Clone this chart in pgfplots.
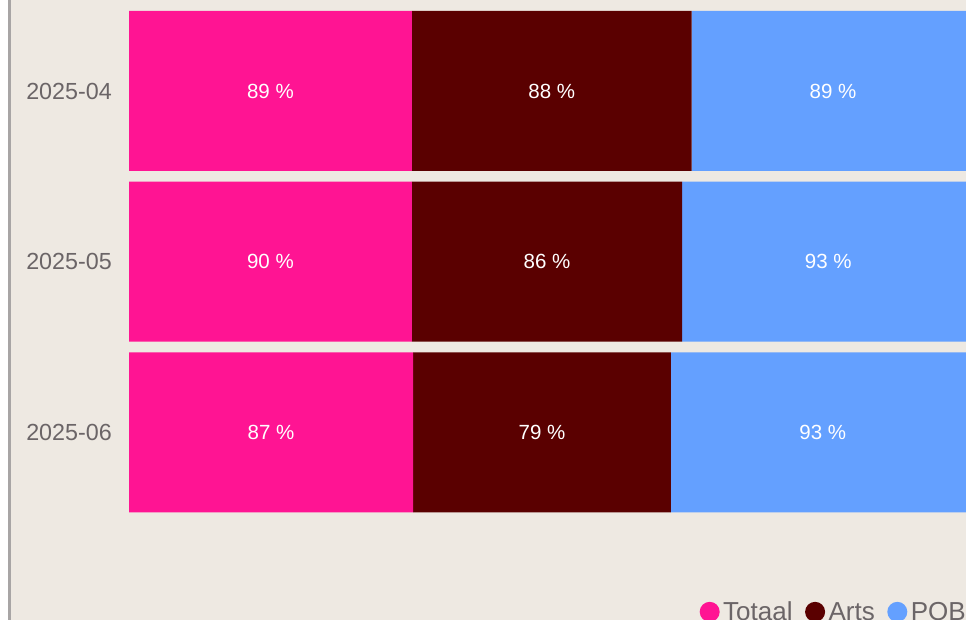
\documentclass[border=0pt]{standalone}
\usepackage{fontspec}
\setmainfont{Liberation Sans}
\usepackage{pgfplots}
\usepackage{pgfplotstable}
\pgfplotsset{compat=1.18}
\definecolor{bg}{HTML}{EEE9E2}
\definecolor{pinkc}{HTML}{FF1493}
\definecolor{maroonc}{HTML}{5A0000}
\definecolor{bluec}{HTML}{64A0FF}
\definecolor{txt}{HTML}{6B6567}
\definecolor{axgray}{HTML}{A8A5A5}

% share = value normalised to 100 % per month, val = shown value
\pgfplotstableread{
y share val
0 33.459 89
1 33.457 90
2 33.591 87
}\totaal
\pgfplotstableread{
y share val
0 33.083 88
1 31.970 86
2 30.502 79
}\arts
\pgfplotstableread{
y share val
0 33.458 89
1 34.573 93
2 35.907 93
}\pob

\begin{document}
\begin{tikzpicture}[x=1bp,y=1bp]
\useasboundingbox (0,0) rectangle (966,620);
\clip (0,0) rectangle (966,620);
\fill[white] (0,0) rectangle (966,620);
\fill[bg] (10,0) rectangle (966,620);
\draw[axgray, line width=2.5bp] (9.5,0) -- (9.5,620);
\begin{axis}[
  at={(129bp,0bp)}, anchor=south west,
  scale only axis, width=853.955bp, height=620bp,
  xbar stacked, bar width=160bp,
  xmin=0, xmax=101,
  ymin=-0.5333, ymax=3.0999, y dir=reverse,
  ytick={0,1,2}, yticklabels={2025-04,2025-05,2025-06},
  xtick=\empty,
  axis line style={draw=none}, tick style={draw=none},
  yticklabel style={font=\fontsize{23.3bp}{28bp}\selectfont, text=txt, anchor=east, inner sep=0pt, xshift=-17bp},
  /pgf/number format/assume math mode=true,
  point meta=explicit,
  nodes near coords={\pgfmathprintnumber{\pgfplotspointmeta} \%},
  every node near coord/.append style={font=\fontsize{20.5bp}{24bp}\selectfont, text=white, anchor=center},
  legend columns=3,
  legend image code/.code={\fill[#1] (10bp,0bp) circle (10bp); \path (23.5bp,0bp);},
  legend style={at={(0.6683,-0.00323)}, anchor=south west, draw=none, fill=none, inner sep=0pt, outer sep=0pt,
    font=\fontsize{26bp}{31bp}\selectfont, text=txt, nodes={inner sep=0pt, outer sep=0pt},
    column sep=0pt, /tikz/every even column/.append style={column sep=12.5bp}},
]
\addplot[fill=pinkc, draw=none] table[x=share, y=y, meta=val] {\totaal};
\addlegendentry{Totaal}
\addplot[fill=maroonc, draw=none] table[x=share, y=y, meta=val] {\arts};
\addlegendentry{Arts}
\addplot[fill=bluec, draw=none] table[x=share, y=y, meta=val] {\pob};
\addlegendentry{POB}
\end{axis}
\end{tikzpicture}
\end{document}
